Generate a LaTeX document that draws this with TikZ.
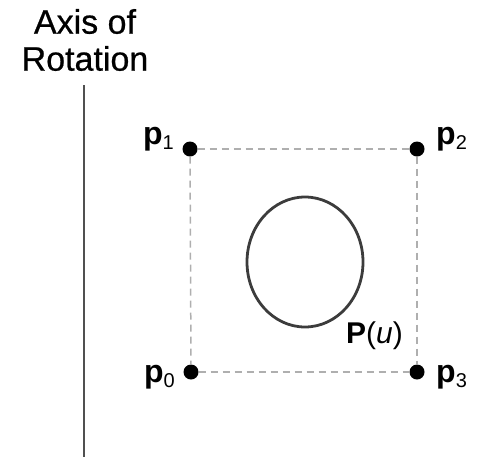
\documentclass[tikz,border=0pt]{standalone}
\usepackage{fontspec}
\setmainfont{Liberation Sans}
\newfontfamily\axisfont{Liberation Sans}[FakeBold=0.6]
\usetikzlibrary{shapes.geometric}
\definecolor{dashgray}{RGB}{175,175,175}
\definecolor{curvegray}{RGB}{60,60,60}
\definecolor{axisgray}{RGB}{80,80,80}
\newcommand{\ptlabel}[1]{\textbf{p}{\fontsize{20}{20}\selectfont\raisebox{-5pt}{#1}}}
\begin{document}
\begin{tikzpicture}[x=1pt,y=-1pt,
  ctrlpt/.style={circle,fill=black,inner sep=0pt,minimum size=15pt},
  hull/.style={dashgray,line width=1.5pt,dash pattern=on 7pt off 5pt},
  lbl/.style={inner sep=0pt,font=\fontsize{32}{32}\selectfont},
  axistext/.style={align=center,inner sep=0pt,font=\axisfont\fontsize{34}{37}\selectfont}]
\useasboundingbox (0,0) rectangle (481,459);
% axis of rotation
\node[axistext] (axlabel) at (85,40) {Axis of\\Rotation};
\coordinate (axtop) at (84,85);
\coordinate (axbot) at (84,457);
\draw[axisgray,line width=2.2pt] (axtop) -- (axbot);
% control points
\node[ctrlpt] (p1) at (190,149) {};
\node[ctrlpt] (p2) at (417,149) {};
\node[ctrlpt] (p0) at (191,372) {};
\node[ctrlpt] (p3) at (417,372) {};
% convex hull
\draw[hull] (p1) -- (p2);
\draw[hull] (p0) -- (p3);
\draw[hull] (p1) -- (p0);
\draw[hull] (p2) -- (p3);
% labels
\node[lbl,anchor=base east] (l1) at (174,144) {\ptlabel{1}};
\node[lbl,anchor=base west] (l2) at (436,144) {\ptlabel{2}};
\node[lbl,anchor=base east] (l0) at (175,382) {\ptlabel{0}};
\node[lbl,anchor=base west] (l3) at (436,382) {\ptlabel{3}};
% curve
\node[ellipse,draw=curvegray,line width=2.8pt,minimum width=116pt,minimum height=130pt,inner sep=0pt] (curve) at (305,262) {};
\node[lbl,anchor=base west,font=\fontsize{30}{30}\selectfont] (pu) at (346,343) {\textbf{P}(\textit{u})};
\end{tikzpicture}
\end{document}
